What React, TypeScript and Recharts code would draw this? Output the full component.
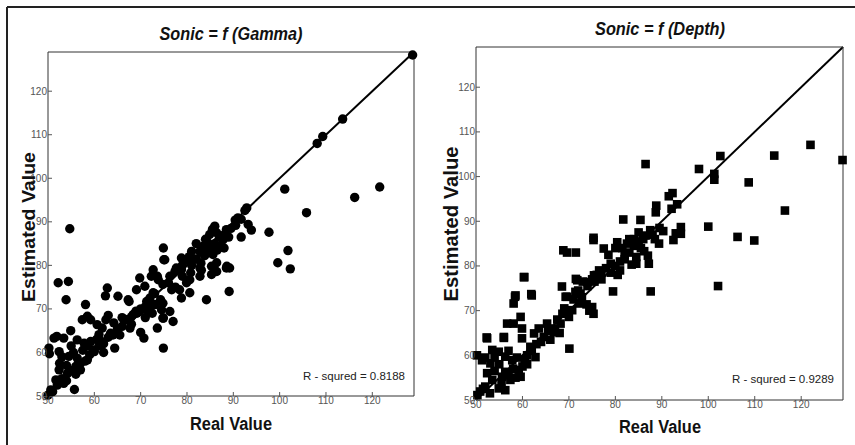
import React from 'react';
import { ScatterChart, Scatter, XAxis, YAxis, ReferenceLine } from 'recharts';

// shared axis setup (both panels use the same 50..129 range)
const axisTicks = [50, 60, 70, 80, 90, 100, 110, 120];
const axisMin = 50;
const axisMax = 129;

const gammaTitle = 'Sonic = f (Gamma)';
const depthTitle = 'Sonic = f (Depth)';
const xLabel = 'Real Value';
const yLabel = 'Estimated Value';
const gammaRSquared = 'R - squred = 0.8188';
const depthRSquared = 'R - squred = 0.9289';

// [real, estimated]
const gammaPoints: [number, number][] = [
  [128.7, 128.3], [113.6, 113.6], [109.3, 109.6], [108.1, 108], [101.1, 97.5], [121.6, 98],
  [116.2, 95.6], [105.8, 92.1], [97.7, 87.6], [101.8, 83.4], [99.6, 80.6], [102.3, 79.2],
  [92.9, 93.2], [92.5, 92.6], [91.7, 90.6], [93.2, 89.4], [93.9, 88.1], [91.7, 86.5],
  [91, 90.9], [90.4, 90.4], [89.1, 74], [89.2, 79.4], [88.6, 79.8], [84.2, 72.1],
  [77, 67.1], [74.9, 67.9], [74.9, 61], [74.9, 84], [75, 81.3], [64.4, 61], [54.7, 88.4],
  [52.2, 76], [54.4, 76.3], [53.9, 72.1], [55.7, 51.5], [50, 50.2], [50.3, 59.7], [51.9, 63.7],
  [86, 89], [86.4, 87.5], [84.9, 87.1], [88.5, 88.2], [87.8, 85.9], [87.1, 84.4], [84.5, 85.2],
  [83.5, 84.4], [82.8, 83.2], [81, 83.2], [81.3, 81.3], [79.9, 81.3], [78.8, 81.7], [75.2, 81.3],
  [83.8, 82.2], [85.6, 82.5], [86.4, 80.6], [88.5, 79.4], [85.3, 77.9], [82.8, 77.5], [80.6, 76.7],
  [82.8, 79.4], [78.8, 79], [77.4, 78.6], [76.3, 77.5], [72.7, 79], [72.3, 77.5], [73.8, 76.7],
  [69.8, 77.1], [74.8, 75.6], [76.7, 74.4], [79.9, 76], [78.4, 74.4], [80.6, 73.7], [78.8, 72.5],
  [72.7, 73.7], [70.9, 75.2], [69.1, 74.4], [67.3, 72.1], [71.3, 71.7], [73.1, 71], [74.8, 71.3],
  [74.5, 69.8], [76.3, 69.4], [71.6, 69.4], [69.8, 69.4], [68.4, 68.7], [86.4, 78.6], [83.1, 78.9],
  [80.8, 78.3], [77.7, 79.4], [85.3, 79.8], [87, 86.5], [85.5, 88.3], [84, 86], [82, 85],
  [80.5, 82], [79, 80], [86.5, 83.5], [88, 87], [89.5, 88.5], [90.5, 89.2],
  [58.1, 71], [58.5, 68.3], [62.4, 73], [62.8, 74.8], [65.1, 72.9], [73.6, 77.5], [67.5, 71.7],
  [69.2, 69], [72.5, 71], [74.3, 72.1], [74.8, 67.9], [70, 64.6], [70.7, 63.3], [67.7, 65.6],
  [73.6, 65.6], [54.9, 65], [51.3, 63.3], [53.4, 63.3], [50.2, 61], [52.4, 60.2], [56.3, 62.9],
  [57.8, 62.1], [59.2, 62.5], [59.9, 60.6], [61, 64.1], [61.7, 65.6], [63.5, 64.4], [64.2, 66.8],
  [66.4, 67.5], [60.6, 66.4], [59.2, 67.5], [57.4, 67.5], [54.5, 59.1], [56, 56.8], [54.2, 55.2],
  [52.4, 56], [51.7, 53.7], [53.4, 52.9], [50.6, 51.4], [57, 56], [58.5, 58.3], [56.3, 58.7],
  [51, 51], [52, 52.5], [53, 54], [54, 53.5], [55, 55.8], [56, 55], [57, 57.5], [58, 58],
  [59, 59.5], [60, 60.2], [61, 61.5], [62, 62], [63, 63.5], [64, 64], [65, 65.5], [66, 66],
  [67, 67.5], [68, 68.2], [69, 69.5], [70, 70], [71, 70.5], [72, 72.5], [62.5, 67.5], [63, 68.5],
  [60.5, 63], [55, 61.5], [53, 59], [52.5, 57.5], [54, 57], [55.5, 60], [57.5, 60.5], [58.5, 61.5],
  [62, 60], [61.5, 62.5], [65.5, 64], [66, 68], [68, 66.5], [71, 68], [72.5, 69], [73, 73.5],
  [76, 76], [77.5, 75], [79, 77.5], [81, 80], [82, 81.5], [83, 80.5], [84, 82.8], [85, 84],
  [86, 85], [88, 84], [89, 86.5],
];

// [real, estimated]
const depthPoints: [number, number][] = [
  [128.9, 103.7], [122, 107.1], [114.2, 104.7], [116.5, 92.4], [108.7, 98.7], [109.9, 85.7],
  [106.3, 86.5], [100, 88.8], [102.1, 75.5], [102.6, 104.6], [101.3, 100.6], [101.3, 99.3],
  [98, 101.7], [86.5, 102.8], [81.7, 90.4], [85.4, 90.3], [87.6, 74.3], [79.5, 74.3],
  [70.1, 61.5], [75.3, 86.3], [75.3, 85.8], [68.5, 75.4], [71.5, 77.1], [68.8, 83.5], [69.6, 83],
  [71.5, 83], [60.4, 77.5], [62, 73.4], [58.4, 73.1], [58.1, 71.6], [52.3, 64], [56, 63.9],
  [92.3, 96.3], [91.5, 95.6], [92.1, 92.8], [93.3, 93.8], [88.8, 93.5], [88.7, 92], [94.1, 88.7],
  [94.1, 87.2], [93, 87.3], [92.5, 85.8], [89.4, 85], [88, 87], [86.5, 86.8], [87.2, 80.5],
  [87, 82.3], [88.5, 86], [90.3, 87.8], [89.5, 88.5],
  [77.5, 83.9], [80.4, 85.3], [69.6, 73.1], [72.5, 73.8], [75, 70.8], [75.3, 69.3], [74.4, 70],
  [73.8, 71.4], [72, 74.5], [73, 76.5], [74, 75.5], [75, 77], [76, 78], [77, 78.5], [78, 79.5],
  [79, 78.5], [80, 80], [81, 81], [82, 82.5], [83, 83], [84, 84.5], [85, 85.5], [86, 86],
  [83.5, 80.3], [82, 81.5], [84.5, 82], [85.5, 84], [86.2, 83.3], [81, 79], [79, 80.5], [80, 84],
  [82.5, 85], [84, 86], [85, 87.5], [87.5, 88], [78.5, 82.5], [76.5, 79], [75.5, 76.5], [77, 77],
  [80.5, 78], [84.5, 80.5], [83, 86], [81.5, 84],
  [60.3, 77.5], [58.5, 73.4], [61.9, 73.7], [59.6, 68.6], [56.7, 67.1], [58.1, 67.1], [59.9, 66],
  [52.4, 63.8], [56, 64.1], [59.9, 63.8], [62.5, 64.9], [63.5, 66], [65.3, 67.1], [64.6, 64.1],
  [66.8, 65.2], [68.2, 67.1], [68.6, 69.3], [70, 68.6], [69.3, 73.1], [70.7, 70.1], [72.2, 71.6],
  [74.7, 70.1], [71.4, 74.2], [71.8, 76.8], [74, 76.4], [75.4, 77.9], [61.7, 61.9], [61, 60],
  [59.2, 56.7], [59.6, 55.2], [57.8, 58.9], [56.3, 59.7], [54.9, 60.8], [53.5, 61.2], [50.2, 60],
  [51.3, 58.9], [53.1, 58.2], [56.3, 56.3], [57.4, 54.5], [55.6, 55.2], [54.9, 52.6], [53.5, 54.5],
  [52.4, 56], [52, 53], [50.9, 51.9], [50.3, 51.1], [56.3, 52.2],
  [63, 62.5], [64, 63], [62, 61], [65.5, 65.5], [67, 66], [66, 63.5], [68, 65], [58, 57], [57, 61],
  [55, 58], [54, 56.5], [55.5, 53.5], [53, 51.5], [51.5, 52.5], [58.5, 55], [60.5, 59], [61, 58],
  [62.8, 59.6], [67.5, 68], [69, 70.5], [71, 72.5], [72.8, 73], [54, 59.5], [52, 59.5], [57, 55.5],
  [58.8, 59.5], [60, 57.5],
];

const toRows = (pts: [number, number][]) => pts.map(([x, y]) => ({ x, y }));

const tickStyle = { fontSize: 10, fill: '#555', fontFamily: "'Liberation Sans', Arial, sans-serif" };

const Dot = (props: any) => <circle cx={props.cx} cy={props.cy} r={4.7} fill="#000" />;
const Square = (props: any) => (
  <rect x={props.cx - 4.3} y={props.cy - 4.3} width={8.6} height={8.6} fill="#000" />
);

type PanelProps = {
  left: number;
  width: number;
  top: number;
  right: number;
  yAxisWidth: number;
  xAxisHeight: number;
  points: [number, number][];
  shape: any;
};

// the top and right axes only draw the box edge and the inward ticks
const Panel = ({ left, width, top, right, yAxisWidth, xAxisHeight, points, shape }: PanelProps) => (
  <div style={{ position: 'absolute', left, top: 0 }}>
    <ScatterChart width={width} height={445} margin={{ top: top - 1, right: right - 1, bottom: 0, left: 0 }}>
      <XAxis
        type="number"
        dataKey="x"
        domain={[axisMin, axisMax]}
        ticks={axisTicks}
        height={xAxisHeight}
        tick={tickStyle}
        tickSize={-4}
        tickMargin={5}
        axisLine={{ stroke: '#333' }}
        tickLine={{ stroke: '#555' }}
      />
      <XAxis
        xAxisId="top"
        orientation="top"
        type="number"
        dataKey="x"
        domain={[axisMin, axisMax]}
        ticks={axisTicks}
        height={1}
        tick={false}
        tickSize={-4}
        axisLine={{ stroke: '#333' }}
        tickLine={{ stroke: '#555' }}
      />
      <YAxis
        type="number"
        dataKey="y"
        domain={[axisMin, axisMax]}
        ticks={axisTicks}
        width={yAxisWidth}
        tick={tickStyle}
        tickSize={-4}
        tickMargin={5}
        axisLine={{ stroke: '#333' }}
        tickLine={{ stroke: '#555' }}
      />
      <YAxis
        yAxisId="right"
        orientation="right"
        type="number"
        dataKey="y"
        domain={[axisMin, axisMax]}
        ticks={axisTicks}
        width={1}
        tick={false}
        tickSize={-4}
        axisLine={{ stroke: '#333' }}
        tickLine={{ stroke: '#555' }}
      />
      <ReferenceLine
        segment={[{ x: axisMin, y: axisMin }, { x: axisMax, y: axisMax }]}
        stroke="#000"
        strokeWidth={2}
      />
      <Scatter data={toRows(points)} shape={shape} isAnimationActive={false} />
      <Scatter data={[]} xAxisId="top" yAxisId="right" isAnimationActive={false} />
    </ScatterChart>
  </div>
);

const labelFont = "'Liberation Sans', Arial, sans-serif";

const App = () => {
  return (
    <div style={{ position: 'absolute', left: 0, top: 0, width: 855, height: 445, background: '#fff' }}>
      <Panel left={0} width={427} top={52} right={13} yAxisWidth={48} xAxisHeight={49} points={gammaPoints} shape={Dot} />
      <Panel left={427} width={428} top={47} right={12} yAxisWidth={49} xAxisHeight={45} points={depthPoints} shape={Square} />
      <svg width={855} height={445} style={{ position: 'absolute', left: 0, top: 0, pointerEvents: 'none' }}>
        <line x1={7} y1={7} x2={855} y2={7} stroke="#222" strokeWidth={2} />
        <line x1={7} y1={7} x2={7} y2={445} stroke="#222" strokeWidth={2} />
        <g fontFamily={labelFont} fontWeight="bold" fill="#111">
          <text x={231} y={40} fontSize={18} fontStyle="italic" textAnchor="middle" textLength={143} lengthAdjust="spacingAndGlyphs">{gammaTitle}</text>
          <text x={660} y={35} fontSize={18} fontStyle="italic" textAnchor="middle" textLength={130} lengthAdjust="spacingAndGlyphs">{depthTitle}</text>
          <text x={231} y={430} fontSize={18} textAnchor="middle" textLength={82} lengthAdjust="spacingAndGlyphs">{xLabel}</text>
          <text x={660} y={433} fontSize={18} textAnchor="middle" textLength={82} lengthAdjust="spacingAndGlyphs">{xLabel}</text>
          <text transform="translate(35,227) rotate(-90)" fontSize={19} textAnchor="middle" textLength={150} lengthAdjust="spacingAndGlyphs">{yLabel}</text>
          <text transform="translate(458,224) rotate(-90)" fontSize={21} textAnchor="middle" textLength={155} lengthAdjust="spacingAndGlyphs">{yLabel}</text>
        </g>
        <g fontFamily={labelFont} fontSize={11.5} fill="#222">
          <text x={405} y={380} textAnchor="end">{gammaRSquared}</text>
          <text x={834} y={383} textAnchor="end">{depthRSquared}</text>
        </g>
      </svg>
    </div>
  );
};

export default App;
